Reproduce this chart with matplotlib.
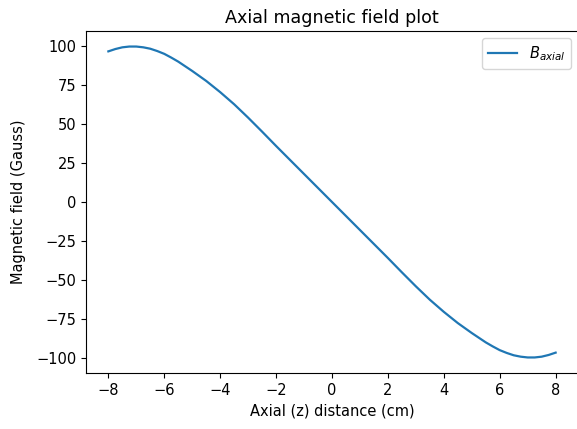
# -*- coding: utf-8 -*-

"""
Output: Figure out.png
Axial magnetic field along the z axis
"""

### 0 ### Imports

import matplotlib
matplotlib.use("Agg")
import matplotlib.pyplot as plt

plt.rcParams['savefig.facecolor'] = 'white'
plt.rcParams['font.family'] = 'DejaVu Sans'
plt.rcParams['font.size'] = 10.5

# values (z in cm, B in Gauss)
z_cm = [-8.0, -7.75, -7.5, -7.25, -7.0, -6.75, -6.5, -6.25, -6.0, -5.75, -5.5,
        -5.0, -4.5, -4.0, -3.5, -3.0, -2.5, -2.0, -1.5, -1.0, -0.5, 0.0,
        0.5, 1.0, 1.5, 2.0, 2.5, 3.0, 3.5, 4.0, 4.5, 5.0,
        5.5, 5.75, 6.0, 6.25, 6.5, 6.75, 7.0, 7.25, 7.5, 7.75, 8.0]
b_axial = [96.8, 98.3, 99.4, 99.9, 99.9, 99.4, 98.5, 97.0, 95.2, 92.8, 90.2,
           84.2, 77.8, 70.6, 62.8, 54.2, 45.2, 36.0, 27.0, 18.0, 9.0, 0.0,
           -9.0, -18.0, -27.0, -36.0, -45.2, -54.2, -62.8, -70.6, -77.8, -84.2,
           -90.2, -92.8, -95.2, -97.0, -98.5, -99.4, -99.9, -99.9, -99.4, -98.3, -96.8]
y_ticks = [-100, -75, -50, -25, 0, 25, 50, 75, 100]
x_ticks = [-8, -6, -4, -2, 0, 2, 4, 6, 8]


### 1 ### Plot

fig = plt.figure(figsize=(5.77, 4.29), dpi=100)
ax = fig.add_axes([86/577, (429-373)/429, 492/577, 342/429])

ax.plot(z_cm, b_axial, color='#1f77b4', lw=1.6, label=r'$B_{axial}$')

ax.set_xticks(x_ticks)
ax.set_yticks(y_ticks)
ax.set_title('Axial magnetic field plot', fontsize=12.6)
ax.set_xlabel('Axial (z) distance (cm)', labelpad=4.5)
ax.set_ylabel('Magnetic field (Gauss)', labelpad=7)
ax.legend(loc='upper right')


### 2 ### Export

fig.savefig('out.png', dpi=100)
